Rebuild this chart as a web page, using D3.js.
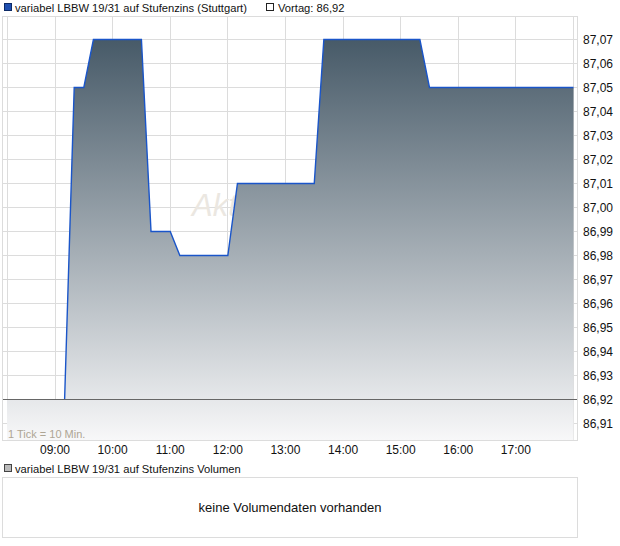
<!DOCTYPE html>
<html>
<head>
<meta charset="utf-8">
<script src="https://cdn.jsdelivr.net/npm/d3@7"></script>
<style>
  html, body { margin: 0; padding: 0; background: #fff; }
  svg { display: block; font-family: "Liberation Sans", Arial, sans-serif; }
</style>
</head>
<body>
<svg id="chart" width="620" height="546"></svg>
<script>
// Intraday quotes (vertices of the price line)
const times  = ["08:10","09:10","09:20","09:30","09:40","10:30","10:40","11:00","11:10","12:00","12:10","13:30","13:40","15:20","15:30","18:00"];
const prices = [86.92, 86.92, 87.05, 87.05, 87.07, 87.07, 86.99, 86.99, 86.98, 86.98, 87.01, 87.01, 87.07, 87.07, 87.05, 87.05];
const previousClose = 86.92;
const yTicks = [86.91, 86.92, 86.93, 86.94, 86.95, 86.96, 86.97, 86.98, 86.99, 87.00, 87.01, 87.02, 87.03, 87.04, 87.05, 87.06, 87.07];
const xTickLabels = ["09:00","10:00","11:00","12:00","13:00","14:00","15:00","16:00","17:00"];
const sessionStart = "08:10", sessionEnd = "18:00", firstTrade = "09:10";

const title = "variabel LBBW 19/31 auf Stufenzins (Stuttgart)";
const volumeTitle = "variabel LBBW 19/31 auf Stufenzins Volumen";
const noVolume = "keine Volumendaten vorhanden";

const parse = d3.timeParse("%H:%M");
const fmtNum = v => v.toFixed(2).replace(".", ",");

const svg = d3.select("#chart");
const frame = { left: 2, right: 578, top: 16, bottom: 441 };

const x = d3.scaleTime().domain([parse(sessionStart), parse(sessionEnd)]).range([7, 573.5]);
const y = d3.scaleLinear().domain([86.92, 87.07]).range([399.5, 39.5]);
const crisp = v => Math.round(v - 0.5) + 0.5;

const data = times.map((t, i) => ({ t: parse(t), v: prices[i] }));
const traded = data.filter(d => d.t >= parse(firstTrade));

// gradient fill for the price area
const defs = svg.append("defs");
const grad = defs.append("linearGradient").attr("id", "areaGrad")
  .attr("gradientUnits", "userSpaceOnUse")
  .attr("x1", 0).attr("x2", 0).attr("y1", y(87.07)).attr("y2", frame.bottom);
grad.append("stop").attr("offset", 0).attr("stop-color", "#475a68");
grad.append("stop").attr("offset", 1).attr("stop-color", "#f8f8f9");
defs.append("clipPath").attr("id", "plotClip").append("rect")
  .attr("x", frame.left).attr("y", frame.top)
  .attr("width", frame.right - frame.left).attr("height", frame.bottom - frame.top);

// legend row
const legendFont = 11.2;
svg.append("rect").attr("x", 4.5).attr("y", 3.5).attr("width", 7).attr("height", 7)
  .attr("fill", "#1f4fb0").attr("stroke", "#0d2a66");
svg.append("text").attr("x", 15).attr("y", 11.5).attr("font-size", legendFont).attr("fill", "#111").text(title);
svg.append("rect").attr("x", 266.5).attr("y", 3.5).attr("width", 7).attr("height", 7)
  .attr("fill", "#fff").attr("stroke", "#222");
svg.append("text").attr("x", 278).attr("y", 11.5).attr("font-size", legendFont).attr("fill", "#111")
  .text("Vortag: " + fmtNum(previousClose));

const plot = svg.append("g").attr("clip-path", "url(#plotClip)");

// grid
const hourTicks = xTickLabels.map(parse);
plot.selectAll("line.vg").data([parse(sessionStart), ...hourTicks, parse(sessionEnd)]).join("line")
  .attr("x1", d => crisp(x(d))).attr("x2", d => crisp(x(d)))
  .attr("y1", frame.top).attr("y2", frame.bottom)
  .attr("stroke", "#dcdcdc").attr("stroke-width", 1);
plot.selectAll("line.hg").data(yTicks).join("line")
  .attr("x1", frame.left).attr("x2", frame.right)
  .attr("y1", d => crisp(y(d))).attr("y2", d => crisp(y(d)))
  .attr("stroke", "#dcdcdc").attr("stroke-width", 1);

// watermark
plot.append("text").attr("x", 192).attr("y", 216).attr("font-size", 31)
  .attr("font-style", "italic").attr("fill", "#ebe7e1").text("Aktiencheck");

// area + line
plot.append("path").datum(data)
  .attr("d", d3.area().x(d => x(d.t)).y0(frame.bottom).y1(d => y(d.v)))
  .attr("fill", "url(#areaGrad)");
plot.append("path").datum(traded)
  .attr("d", d3.line().x(d => x(d.t)).y(d => y(d.v)))
  .attr("fill", "none").attr("stroke", "#1a55c9").attr("stroke-width", 1.4);

// previous close line
plot.append("line").attr("x1", frame.left).attr("x2", frame.right)
  .attr("y1", crisp(y(previousClose))).attr("y2", crisp(y(previousClose)))
  .attr("stroke", "#666").attr("stroke-width", 1);

plot.append("text").attr("x", 8).attr("y", 438).attr("font-size", 11)
  .attr("fill", "#aea594").text("1 Tick = 10 Min.");

// frame
svg.append("rect").attr("x", frame.left + 0.5).attr("y", frame.top + 0.5)
  .attr("width", frame.right - frame.left - 1).attr("height", frame.bottom - frame.top - 1)
  .attr("fill", "none").attr("stroke", "#dcdcdc");

// right axis labels
svg.selectAll("text.yl").data(yTicks).join("text")
  .attr("x", 583).attr("y", d => y(d) + 4.5).attr("font-size", 12).attr("fill", "#111")
  .text(fmtNum);

// time labels
svg.selectAll("text.xl").data(xTickLabels).join("text")
  .attr("x", d => x(parse(d))).attr("y", 454).attr("text-anchor", "middle")
  .attr("font-size", 12).attr("fill", "#111").text(d => d);

// volume panel
svg.append("rect").attr("x", 4.5).attr("y", 464.5).attr("width", 7).attr("height", 7)
  .attr("fill", "#bbb").attr("stroke", "#444");
svg.append("text").attr("x", 15).attr("y", 472.5).attr("font-size", legendFont).attr("fill", "#111").text(volumeTitle);
svg.append("rect").attr("x", 2.5).attr("y", 477.5).attr("width", 575).attr("height", 60)
  .attr("fill", "#fff").attr("stroke", "#dcdcdc");
svg.append("text").attr("x", 290).attr("y", 512).attr("text-anchor", "middle")
  .attr("font-size", 13).attr("fill", "#111").text(noVolume);
</script>
</body>
</html>
